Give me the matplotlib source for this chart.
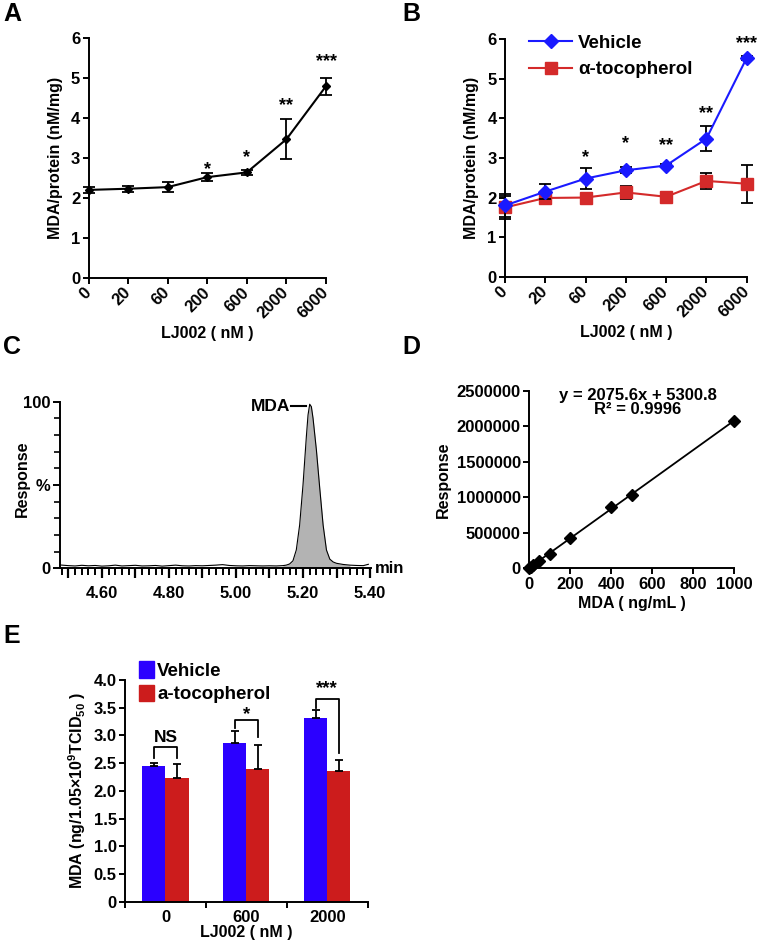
import numpy as np
import matplotlib
matplotlib.use('Agg')
import matplotlib.pyplot as plt
from matplotlib.patches import Patch
from matplotlib.lines import Line2D
from matplotlib.ticker import MultipleLocator, FixedLocator, FuncFormatter

plt.rcParams['font.family'] = ['Liberation Sans', 'DejaVu Sans']
plt.rcParams['font.weight'] = 'bold'
plt.rcParams['axes.labelweight'] = 'bold'
plt.rcParams['font.size'] = 11.5
plt.rcParams['xtick.labelsize'] = 12
plt.rcParams['ytick.labelsize'] = 12
plt.rcParams['mathtext.fontset'] = 'custom'
plt.rcParams['mathtext.rm'] = 'Liberation Sans:bold'
plt.rcParams['mathtext.default'] = 'rm'
plt.rcParams['axes.linewidth'] = 1.4
for ax_ in ('xtick', 'ytick'):
    plt.rcParams[ax_ + '.major.width'] = 1.4
    plt.rcParams[ax_ + '.minor.width'] = 1.2
    plt.rcParams[ax_ + '.major.size'] = 4
    plt.rcParams[ax_ + '.direction'] = 'out'
    plt.rcParams[ax_ + '.major.pad'] = 2

# ---- data ----
doses = ['0', '20', '60', '200', '600', '2000', '6000']

a_mean = [2.20, 2.23, 2.27, 2.52, 2.64, 3.47, 4.80]
a_err = [0.07, 0.07, 0.13, 0.10, 0.07, 0.50, 0.21]
a_sig = ['', '', '', '*', '*', '**', '***']

b_vehicle = [1.80, 2.15, 2.48, 2.69, 2.81, 3.49, 5.53]
b_vehicle_err = [0.28, 0.19, 0.27, 0.08, 0.05, 0.32, 0.05]
b_toco = [1.75, 1.99, 2.00, 2.13, 2.02, 2.42, 2.35]
b_toco_err = [0.28, 0.03, 0.03, 0.16, 0.03, 0.20, 0.48]
b_sig = ['', '', '*', '*', '**', '**', '***']

# chromatogram (min, % response)
c_time = [4.475, 4.50, 4.52, 4.54, 4.56, 4.58, 4.60, 4.62, 4.64, 4.66, 4.68, 4.70,
          4.72, 4.74, 4.76, 4.78, 4.80, 4.82, 4.84, 4.86, 4.88, 4.90, 4.92, 4.94,
          4.96, 4.98, 5.00, 5.02, 5.04, 5.06, 5.08, 5.10, 5.12, 5.14, 5.15, 5.16,
          5.17, 5.18, 5.19, 5.20, 5.21, 5.215, 5.22, 5.225, 5.23, 5.24, 5.25, 5.26,
          5.27, 5.28, 5.29, 5.30, 5.32, 5.34, 5.36, 5.38, 5.395]
c_resp = [2.0, 1.6, 1.4, 1.8, 1.5, 1.7, 1.3, 1.5, 1.9, 1.4, 1.6, 1.8,
          1.4, 1.5, 1.7, 1.3, 1.6, 1.9, 1.5, 1.4, 1.6, 1.5, 1.7, 1.9,
          2.2, 1.7, 1.5, 1.4, 1.6, 1.5, 1.4, 1.5, 1.4, 1.6, 1.9, 2.6,
          4.5, 11.0, 26.0, 50.0, 79.0, 92.0, 98.5, 97.0, 90.0, 71.0, 48.0, 26.0,
          11.0, 5.5, 3.8, 3.0, 2.3, 1.9, 1.7, 1.6, 2.4]

# calibration curve
d_conc = [0, 10, 20, 50, 100, 200, 400, 500, 1000]
d_resp = [8000, 25000, 48000, 105000, 205000, 430000, 862000, 1030000, 2075000]
d_slope, d_intercept, d_r2 = 2075.6, 5300.8, 0.9996

e_groups = ['0', '600', '2000']
e_vehicle = [2.455, 2.86, 3.31]
e_vehicle_err = [0.05, 0.22, 0.14]
e_toco = [2.23, 2.39, 2.365]
e_toco_err = [0.26, 0.44, 0.19]
e_sig = ['NS', '*', '***']

W, H = 761, 944
fig = plt.figure(figsize=(W / 100, H / 100), dpi=100)


def px_axes(l, t, r, b):
    return fig.add_axes([l / W, 1 - b / H, (r - l) / W, (b - t) / H])


def clean(ax):
    ax.spines['top'].set_visible(False)
    ax.spines['right'].set_visible(False)


def letter(x, y, s):
    fig.text(x / W, 1 - y / H, s, fontsize=18, fontweight='bold', va='top', ha='left')


# ---- A ----
axA = px_axes(88.5, 38.3, 326, 277.7)
xa = np.arange(len(doses))
axA.errorbar(xa, a_mean, yerr=a_err, color='black', lw=1.5, marker='D', ms=4.5,
             capsize=4, elinewidth=1.3, capthick=1.3, clip_on=False, zorder=3)
sigA_y = [0, 0, 0, 2.72, 3.02, 4.32, 5.42]
for x, s, y in zip(xa, a_sig, sigA_y):
    if s:
        axA.text(x, y, s, ha='center', va='center', fontsize=13, fontweight='bold')
axA.set_xlim(0, 6)
axA.set_ylim(0, 6)
axA.set_yticks(range(7))
axA.set_xticks(xa)
axA.set_xticklabels(doses, rotation=45, ha='right', va='center', rotation_mode='anchor')
axA.tick_params(axis='x', pad=5)
axA.set_ylabel('MDA/protein (nM/mg)', labelpad=6)
axA.set_xlabel('LJ002 ( nM )', labelpad=3)
clean(axA)

# ---- B ----
axB = px_axes(505, 39.3, 746.7, 276.7)
blue, red = '#1a1aff', '#d42a2a'
axB.errorbar(xa, b_toco, yerr=b_toco_err, color=red, lw=1.5, marker='s', ms=8,
             ecolor='black', capsize=4, elinewidth=1.3, capthick=1.3, clip_on=False, zorder=3)
axB.errorbar(xa, b_vehicle, yerr=b_vehicle_err, color=blue, lw=1.5, marker='D', ms=7,
             ecolor='black', capsize=4, elinewidth=1.3, capthick=1.3, clip_on=False, zorder=4)
sigB_y = [0, 0, 3.02, 3.37, 3.32, 4.12, 5.9]
for x, s, y in zip(xa, b_sig, sigB_y):
    if s:
        axB.text(x, y, s, ha='center', va='center', fontsize=13, fontweight='bold')
axB.set_xlim(0, 6)
axB.set_ylim(0, 6)
axB.set_yticks(range(7))
axB.set_xticks(xa)
axB.set_xticklabels(doses, rotation=45, ha='right', va='center', rotation_mode='anchor')
axB.tick_params(axis='x', pad=5)
axB.set_ylabel('MDA/protein (nM/mg)', labelpad=6)
axB.set_xlabel('LJ002 ( nM )', labelpad=3)
handles = [Line2D([], [], color=blue, marker='D', ms=7, lw=1.5),
           Line2D([], [], color=red, marker='s', ms=8, lw=1.5)]
axB.legend(handles, ['Vehicle', 'α-tocopherol'], loc='upper left', bbox_to_anchor=(0.03, 1.09),
           frameon=False, fontsize=13.5, handlelength=2.3, labelspacing=0.5, handletextpad=0.3)
clean(axB)

# ---- C ----
axC = px_axes(60, 401.7, 370.7, 568.3)
axC.plot(c_time, c_resp, color='black', lw=0.8, clip_on=False)
peak = [(t, r) for t, r in zip(c_time, c_resp) if 5.14 <= t <= 5.34]
axC.fill_between([p[0] for p in peak], 0, [p[1] for p in peak], color='#b3b3b3', lw=0)
axC.set_xlim(4.475, 5.402)
axC.set_ylim(0, 100)
axC.xaxis.set_major_locator(FixedLocator([4.5, 4.6, 4.7, 4.8, 4.9, 5.0, 5.1, 5.2, 5.3, 5.4]))
axC.xaxis.set_minor_locator(MultipleLocator(0.02))
axC.xaxis.set_major_formatter(FuncFormatter(
    lambda v, p: f'{v:.2f}' if round(v * 10) % 2 == 0 and v > 4.55 else ''))
axC.tick_params(axis='x', which='major', length=7, width=1.6, pad=6)
axC.tick_params(axis='x', which='minor', length=5, width=1.4)
axC.set_yticks([0, 50, 100])
axC.set_yticklabels(['0', '%', '100'])
axC.yaxis.set_minor_locator(MultipleLocator(10))
axC.tick_params(axis='y', which='major', length=5)
axC.tick_params(axis='y', which='minor', length=4)
axC.set_ylabel('Response')
axC.yaxis.set_label_coords(-0.097, 0.54)
axC.text(5.163, 97.4, 'MDA', ha='right', va='center', fontsize=12.5, fontweight='bold')
axC.plot([5.163, 5.208], [97.4, 97.4], color='black', lw=1.5)
axC.text(1.015, 0, 'min', transform=axC.transAxes, ha='left', va='center', fontsize=12,
         fontweight='bold')
clean(axC)

# ---- D ----
axD = px_axes(529, 391, 734, 568.3)
axD.plot([0, 1000], [d_intercept, d_slope * 1000 + d_intercept], color='black', lw=1.3,
         clip_on=False)
axD.plot(d_conc, d_resp, 'D', color='black', ms=6.5, clip_on=False, zorder=3)
axD.set_xlim(0, 1000)
axD.set_ylim(0, 2500000)
axD.set_xticks(range(0, 1001, 200))
axD.set_yticks(range(0, 2500001, 500000))
axD.yaxis.set_major_formatter(FuncFormatter(lambda v, p: f'{int(v)}'))
axD.set_ylabel('Response', labelpad=4)
axD.set_xlabel('MDA ( ng/mL )', labelpad=3)
axD.text(0.53, 0.975, f'y = {d_slope}x + {d_intercept}', transform=axD.transAxes,
         ha='center', va='center', fontsize=12, fontweight='bold')
axD.text(0.53, 0.895, f'R² = {d_r2}', transform=axD.transAxes,
         ha='center', va='center', fontsize=12, fontweight='bold')
clean(axD)

# ---- E ----
axE = px_axes(125, 680, 367.7, 901.7)
xe = np.arange(len(e_groups))
w = 0.285
eblue, ered = '#2b00ff', '#cc1c1c'
axE.bar(xe - w / 2, e_vehicle, w, color=eblue)
axE.bar(xe + w / 2, e_toco, w, color=ered)
axE.errorbar(xe - w / 2, e_vehicle, yerr=[np.zeros(3), e_vehicle_err], fmt='none',
             ecolor='black', capsize=3, elinewidth=1.3, capthick=1.3)
axE.errorbar(xe + w / 2, e_toco, yerr=[np.zeros(3), e_toco_err], fmt='none',
             ecolor='black', capsize=3, elinewidth=1.3, capthick=1.3)
br_top = [2.80, 3.28, 3.66]
br_left = [2.60, 3.13, 3.50]
br_right = [2.60, 2.97, 2.69]
sig_y = [2.96, 3.37, 3.85]
for i in range(3):
    xl, xr = xe[i] - w / 2, xe[i] + w / 2
    axE.plot([xl, xl, xr, xr], [br_left[i], br_top[i], br_top[i], br_right[i]],
             color='black', lw=1.3)
    axE.text(xe[i], sig_y[i], e_sig[i], ha='center', va='center',
             fontsize=13.5 if e_sig[i] != 'NS' else 12.5, fontweight='bold')
axE.set_xlim(-0.5, 2.5)
axE.set_ylim(0, 4)
axE.set_xticks([-0.5, 0.5, 1.5, 2.5])
axE.set_xticklabels([])
axE.set_xticks(xe, minor=True)
axE.set_xticklabels(e_groups, minor=True)
axE.tick_params(axis='x', which='minor', length=0, pad=6)
axE.set_yticks(np.arange(0, 4.01, 0.5))
axE.set_yticklabels(['0'] + [f'{v:.1f}' for v in np.arange(0.5, 4.01, 0.5)])
axE.set_ylabel(r'MDA (ng/1.05×10$^{9}$TCID$_{50}$ )', labelpad=4)
axE.set_xlabel('LJ002 ( nM )', labelpad=0)
axE.legend([Patch(color=eblue), Patch(color=ered)], ['Vehicle', 'a-tocopherol'],
           loc='upper left', bbox_to_anchor=(-0.01, 1.16), frameon=False, fontsize=13.5,
           handlelength=0.75, handleheight=0.95, handletextpad=0.2, labelspacing=0.25)
clean(axE)

letter(3, 2, 'A')
letter(402, 2, 'B')
letter(3, 335, 'C')
letter(402, 335, 'D')
letter(3, 624, 'E')

fig.savefig('out.png', dpi=100)
